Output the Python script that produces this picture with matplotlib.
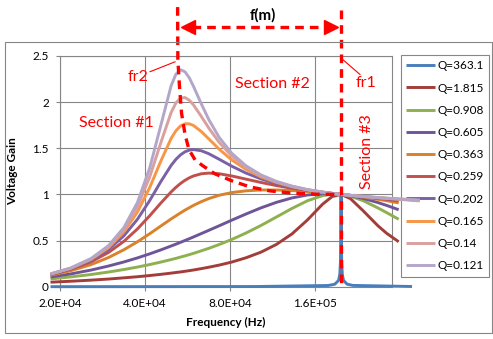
import matplotlib
matplotlib.use("Agg")
import matplotlib.pyplot as plt
from matplotlib.patches import Rectangle

plt.rcParams['font.family'] = ['Lato', 'DejaVu Sans']

# Quality factors (legend order)
q_labels = ["Q=363.1", "Q=1.815", "Q=0.908", "Q=0.605", "Q=0.363",
            "Q=0.259", "Q=0.202", "Q=0.165", "Q=0.14", "Q=0.121"]
colors = ["#4A7EBB", "#A33D3A", "#8EB04F", "#6F5597", "#D9822B",
          "#C0504D", "#7B60A8", "#F79646", "#D9A09E", "#B3A6C9"]

# common frequency points (Hz)
freq_hz = [18513, 21780, 25740, 29700, 33660, 37620, 41580, 45540, 49500, 51480,
           53460, 55440, 57420, 59400, 63360, 67320, 73260, 81180, 91080, 102960,
           116820, 132660, 150480, 170280, 184140, 198000, 213840, 237600, 267300,
           287100, 316800]
freq_hz_long = freq_hz + [376200]

# Q=363.1 has its own points around the spike at fr1
freq_q363 = [18513, 99000, 178200, 188100, 194040, 196020, 197010, 197604, 198000,
             198396, 198990, 199980, 201960, 207900, 217800, 353200]
gain_q363 = [0.0003, 0.0018, 0.013, 0.027, 0.068, 0.136, 0.265, 0.567, 1.0,
             0.567, 0.265, 0.136, 0.068, 0.028, 0.014, 0.002]

gain_q1815 = [0.049, 0.059, 0.071, 0.083, 0.096, 0.108, 0.121, 0.134, 0.147, 0.154,
              0.160, 0.167, 0.174, 0.181, 0.196, 0.211, 0.234, 0.267, 0.313, 0.374,
              0.458, 0.572, 0.723, 0.894, 0.977, 1.0, 0.954, 0.820, 0.661, 0.579, 0.487]
gain_q0908 = [0.084, 0.106, 0.132, 0.159, 0.186, 0.213, 0.240, 0.267, 0.294, 0.307,
              0.321, 0.334, 0.348, 0.361, 0.389, 0.416, 0.457, 0.512, 0.581, 0.663,
              0.755, 0.848, 0.931, 0.987, 1.002, 1.0, 0.981, 0.931, 0.854, 0.803, 0.731]
gain_q0605 = [0.105, 0.138, 0.180, 0.224, 0.268, 0.312, 0.356, 0.399, 0.441, 0.461,
              0.481, 0.501, 0.520, 0.539, 0.576, 0.611, 0.660, 0.721, 0.787, 0.854,
              0.914, 0.962, 0.994, 1.008, 1.007, 1.0, 0.986, 0.956, 0.912, 0.881, 0.834]
gain_q0363 = [0.124, 0.172, 0.239, 0.316, 0.400, 0.487, 0.574, 0.658, 0.734, 0.768,
              0.800, 0.830, 0.856, 0.881, 0.922, 0.955, 0.991, 1.020, 1.039, 1.048,
              1.048, 1.042, 1.032, 1.019, 1.010, 1.0, 0.988, 0.971, 0.947, 0.932, 0.908]
gain_q0259 = [0.131, 0.187, 0.269, 0.371, 0.491, 0.626, 0.769, 0.907, 1.027, 1.077,
              1.119, 1.153, 1.180, 1.200, 1.224, 1.231, 1.224, 1.200, 1.166, 1.130,
              1.096, 1.067, 1.043, 1.023, 1.011, 1.0, 0.989, 0.975, 0.958, 0.947, 0.931]
gain_q0202 = [0.135, 0.194, 0.285, 0.403, 0.551, 0.731, 0.934, 1.140, 1.314, 1.380,
              1.429, 1.462, 1.480, 1.486, 1.473, 1.441, 1.381, 1.306, 1.232, 1.169,
              1.118, 1.078, 1.048, 1.024, 1.011, 1.0, 0.989, 0.976, 0.962, 0.954, 0.942]
gain_q0165 = [0.137, 0.198, 0.295, 0.423, 0.593, 0.810, 1.075, 1.362, 1.606, 1.690,
              1.742, 1.766, 1.765, 1.747, 1.681, 1.602, 1.490, 1.374, 1.272, 1.191,
              1.130, 1.084, 1.050, 1.025, 1.011, 1.0, 0.990, 0.977, 0.964, 0.957, 0.947,
              0.930]
gain_q014 = [0.138, 0.200, 0.301, 0.436, 0.620, 0.868, 1.190, 1.562, 1.887, 1.991,
             2.044, 2.050, 2.021, 1.971, 1.844, 1.719, 1.564, 1.416, 1.295, 1.204,
             1.137, 1.088, 1.052, 1.025, 1.011, 1.0, 0.990, 0.977, 0.966, 0.959, 0.950,
             0.935]
gain_q0121 = [0.139, 0.202, 0.304, 0.445, 0.640, 0.913, 1.287, 1.751, 2.177, 2.303,
              2.351, 2.329, 2.263, 2.172, 1.980, 1.811, 1.618, 1.446, 1.311, 1.212,
              1.141, 1.090, 1.052, 1.025, 1.011, 1.0, 0.990, 0.978, 0.966, 0.960, 0.952,
              0.939]

series = [
    (freq_q363, gain_q363), (freq_hz, gain_q1815), (freq_hz, gain_q0908),
    (freq_hz, gain_q0605), (freq_hz, gain_q0363), (freq_hz, gain_q0259),
    (freq_hz, gain_q0202), (freq_hz_long, gain_q0165), (freq_hz_long, gain_q014),
    (freq_hz_long, gain_q0121),
]

# annotation: resonant frequencies and the hand drawn peak locus
fr1 = 198000
fr2 = 52200
locus_freq = [52200, 52300, 53000, 53900, 55500, 57300, 60200, 64200, 70900, 81500,
              94200, 111000, 130600, 160200, 198000]
locus_gain = [3.03, 2.46, 2.17, 1.88, 1.645, 1.483, 1.374, 1.309, 1.222, 1.146,
              1.081, 1.038, 1.016, 1.002, 1.0]

W, H = 493, 339
fig = plt.figure(figsize=(W / 100, H / 100), dpi=100)
ax = fig.add_axes([60 / W, 1 - 286.7 / H, 332 / W, 230.7 / H])

grid_c = "#868686"
for (fx, gy), c, lab in zip(series, colors, q_labels):
    ax.plot(fx, gy, color=c, lw=2.1, label=lab, clip_on=False, zorder=6,
            solid_capstyle="butt")

ax.set_xscale("log", base=2)
ax.set_xlim(2e4, 3e5)
ax.set_ylim(0, 2.5)
xt = [2e4, 4e4, 8e4, 1.6e5]
ax.set_xticks(xt)
ax.set_xticklabels([f"{v:.1E}" for v in xt])
ax.xaxis.set_minor_locator(plt.NullLocator())
ax.set_yticks([0, 0.5, 1, 1.5, 2, 2.5])
ax.set_yticklabels(["0", "0.5", "1", "1.5", "2", "2.5"])
ax.grid(True, color=grid_c, lw=0.8)
ax.set_axisbelow(True)
for s in ax.spines.values():
    s.set_color(grid_c)
    s.set_linewidth(0.8)
ax.tick_params(length=3, color=grid_c, labelsize=8.5, pad=5)
ax.set_xlabel("Frequency (Hz)", fontsize=8.5, fontweight="bold", labelpad=6)
ax.set_ylabel("Voltage Gain", fontsize=8.5, fontweight="bold", labelpad=10)

leg = ax.legend(loc="upper left", bbox_to_anchor=(401 / W, 1 - 55 / H),
                bbox_transform=fig.transFigure, fontsize=8.5, frameon=True,
                fancybox=False, edgecolor=grid_c, framealpha=1, borderpad=0.45,
                labelspacing=0.95, handlelength=2.4, handletextpad=0.2,
                borderaxespad=0)
leg.get_frame().set_linewidth(0.8)
leg.set_zorder(5)

# red annotations
red = "#FF0000"
dash = dict(color=red, lw=2.4, linestyle=(0, (2.6, 1.8)), clip_on=False, zorder=8)
ax.plot(locus_freq, locus_gain, **dash)
ax.plot([fr1, fr1], [3.0, -0.015], **dash)
ax.plot([fr2 * 1.12, fr1 * 0.88], [2.81, 2.81], **dash)
ax.plot([fr2 * 1.085], [2.81], marker="<", ms=10.5, color=red, clip_on=False, zorder=8)
ax.plot([fr1 * 0.92], [2.81], marker=">", ms=10.5, color=red, clip_on=False, zorder=8)
ax.text(104700, 2.945, "f(m)", fontsize=11, fontweight="bold", ha="center",
        va="center", clip_on=False)

ax.plot([41700, 51100], [2.33, 2.437], color=red, lw=0.8, zorder=8)
ax.text(37800, 2.27, "fr2", color=red, fontsize=11.5, ha="center", va="center", zorder=8)
ax.plot([201000, 231000], [2.46, 2.30], color=red, lw=0.8, zorder=8, clip_on=False)
ax.text(243000, 2.21, "fr1", color=red, fontsize=11.5, ha="center", va="center", zorder=8)
ax.text(31600, 1.774, "Section #1", color=red, fontsize=11.5, ha="center", va="center")
ax.text(112700, 2.20, "Section #2", color=red, fontsize=11.5, ha="center", va="center")
ax.text(244000, 1.46, "Section #3", color=red, fontsize=11.5, ha="center", va="center",
        rotation=90)

# chart border
fig.patches.append(Rectangle((5.3 / W, 1 - 333.3 / H), 487 / W, 291.6 / H,
                             transform=fig.transFigure, fill=False,
                             edgecolor=grid_c, lw=0.8))

fig.savefig("out.png", dpi=100, facecolor="white")
